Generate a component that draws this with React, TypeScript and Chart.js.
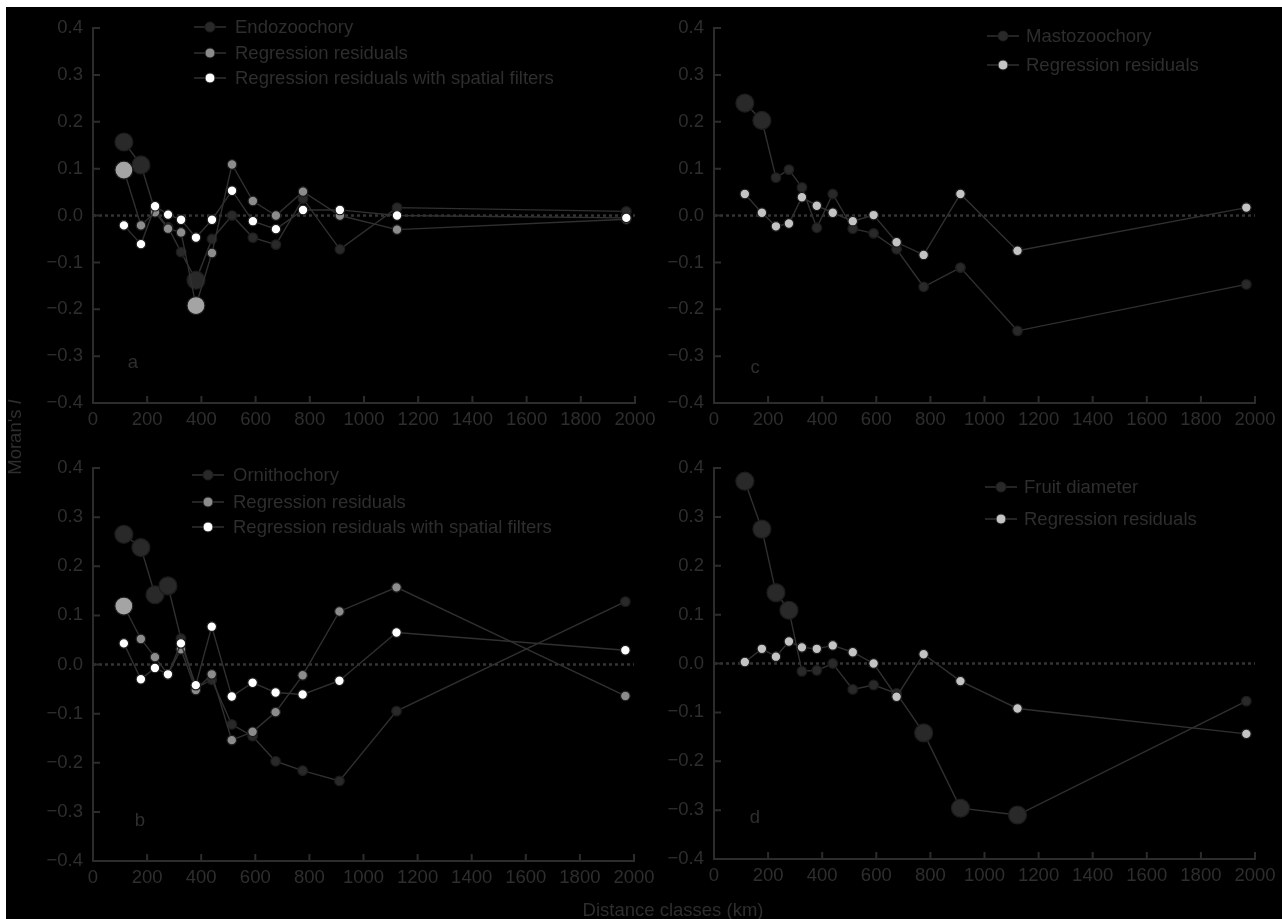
import React, { useEffect, useRef } from "react";
import { Chart, registerables } from "chart.js";

Chart.register(...registerables);

// ---------------- DATA ----------------
const distanceClasses = [114, 177, 229, 277, 325, 380, 439, 513, 590, 675, 775, 911, 1122, 1968];
const xTickValues = [0, 200, 400, 600, 800, 1000, 1200, 1400, 1600, 1800, 2000];
const yTickValues = [-0.4, -0.3, -0.2, -0.1, 0, 0.1, 0.2, 0.3, 0.4];

// Panel a – Endozoochory
const endozoochory = [0.157, 0.108, 0.01, -0.025, -0.078, -0.138, -0.05, 0.0, -0.047, -0.062, 0.036, -0.072, 0.017, 0.009];
const endozoochorySig = [1, 1, 0, 0, 0, 1, 0, 0, 0, 0, 0, 0, 0, 0];
const endoResiduals = [0.097, -0.021, 0.007, -0.028, -0.036, -0.192, -0.08, 0.109, 0.031, 0.0, 0.051, 0.0, -0.03, -0.008];
const endoResidualsSig = [1, 0, 0, 0, 0, 1, 0, 0, 0, 0, 0, 0, 0, 0];
const endoFiltered = [-0.021, -0.061, 0.02, 0.002, -0.009, -0.047, -0.009, 0.053, -0.012, -0.029, 0.012, 0.012, 0.0, -0.005];
const endoFilteredSig = [0, 0, 0, 0, 0, 0, 0, 0, 0, 0, 0, 0, 0, 0];

// Panel b – Ornithochory
const ornithochory = [0.265, 0.238, 0.142, 0.16, 0.053, -0.048, -0.031, -0.122, -0.146, -0.197, -0.216, -0.237, -0.095, 0.128];
const ornithochorySig = [1, 1, 1, 1, 0, 0, 0, 0, 0, 0, 0, 0, 0, 0];
const ornithoResiduals = [0.119, 0.052, 0.015, -0.02, 0.031, -0.052, -0.02, -0.154, -0.137, -0.097, -0.022, 0.108, 0.157, -0.064];
const ornithoResidualsSig = [1, 0, 0, 0, 0, 0, 0, 0, 0, 0, 0, 0, 0, 0];
const ornithoFiltered = [0.043, -0.03, -0.007, -0.02, 0.043, -0.042, 0.077, -0.065, -0.037, -0.057, -0.061, -0.033, 0.065, 0.029];
const ornithoFilteredSig = [0, 0, 0, 0, 0, 0, 0, 0, 0, 0, 0, 0, 0, 0];

// Panel c – Mastozoochory
const mastozoochory = [0.24, 0.203, 0.081, 0.098, 0.06, -0.026, 0.046, -0.028, -0.038, -0.072, -0.152, -0.111, -0.246, -0.147];
const mastozoochorySig = [1, 1, 0, 0, 0, 0, 0, 0, 0, 0, 0, 0, 0, 0];
const mastoResiduals = [0.046, 0.006, -0.023, -0.017, 0.039, 0.021, 0.006, -0.012, 0.001, -0.057, -0.084, 0.046, -0.075, 0.017];
const mastoResidualsSig = [0, 0, 0, 0, 0, 0, 0, 0, 0, 0, 0, 0, 0, 0];

// Panel d – Fruit diameter
const fruitDiameter = [0.373, 0.275, 0.145, 0.109, -0.016, -0.014, 0.0, -0.053, -0.044, -0.061, -0.142, -0.296, -0.31, -0.077];
const fruitDiameterSig = [1, 1, 1, 1, 0, 0, 0, 0, 0, 0, 1, 1, 1, 0];
const fruitResiduals = [0.003, 0.03, 0.014, 0.045, 0.033, 0.03, 0.037, 0.023, 0.0, -0.068, 0.019, -0.036, -0.092, -0.144];
const fruitResidualsSig = [0, 0, 0, 0, 0, 0, 0, 0, 0, 0, 0, 0, 0, 0];

// ---------------- STYLE ----------------
const FONT = '"Liberation Sans", Arial, Helvetica, sans-serif';
const FONT_SIZE = 18.5;
const TEXT = "#2e2e2e";
const AXIS = "#2c2c2c";
const LINE = "#303030";
const DARK = "#292929";
const GRAY = "#8c8c8c";
const GRAY_BIG = "#a4a4a4";
const LIGHT = "#c4c4c4";
const WHITE = "#ffffff";
const W = 1276;
const H = 912;

type Series = { label: string; values: number[]; sig: number[]; color: string; bigColor?: string; order: number };
type Panel = {
  area: { l: number; t: number; r: number; b: number };
  series: Series[];
  legend: { mx: number; tx: number; rows: number[] };
  letter: { text: string; x: number; y: number };
};

const panels: Panel[] = [
  {
    area: { l: 87, t: 8, r: 629, b: 396 },
    series: [
      { label: "Endozoochory", values: endozoochory, sig: endozoochorySig, color: DARK, order: 3 },
      { label: "Regression residuals", values: endoResiduals, sig: endoResidualsSig, color: GRAY, bigColor: GRAY_BIG, order: 2 },
      { label: "Regression residuals with spatial filters", values: endoFiltered, sig: endoFilteredSig, color: WHITE, order: 1 },
    ],
    legend: { mx: 204, tx: 229, rows: [20, 46, 71] },
    letter: { text: "a", x: 127, y: 356 },
  },
  {
    area: { l: 708, t: 12, r: 1249, b: 396 },
    series: [
      { label: "Mastozoochory", values: mastozoochory, sig: mastozoochorySig, color: DARK, order: 2 },
      { label: "Regression residuals", values: mastoResiduals, sig: mastoResidualsSig, color: LIGHT, order: 1 },
    ],
    legend: { mx: 997, tx: 1020, rows: [29, 58] },
    letter: { text: "c", x: 749, y: 361 },
  },
  {
    area: { l: 87, t: 461, r: 628, b: 854 },
    series: [
      { label: "Ornithochory", values: ornithochory, sig: ornithochorySig, color: DARK, order: 3 },
      { label: "Regression residuals", values: ornithoResiduals, sig: ornithoResidualsSig, color: GRAY, bigColor: GRAY_BIG, order: 2 },
      { label: "Regression residuals with spatial filters", values: ornithoFiltered, sig: ornithoFilteredSig, color: WHITE, order: 1 },
    ],
    legend: { mx: 202, tx: 227, rows: [468, 495, 520] },
    letter: { text: "b", x: 134, y: 814 },
  },
  {
    area: { l: 708, t: 461, r: 1249, b: 852 },
    series: [
      { label: "Fruit diameter", values: fruitDiameter, sig: fruitDiameterSig, color: DARK, order: 2 },
      { label: "Regression residuals", values: fruitResiduals, sig: fruitResidualsSig, color: LIGHT, order: 1 },
    ],
    legend: { mx: 995, tx: 1018, rows: [480, 512] },
    letter: { text: "d", x: 749, y: 811 },
  },
];

const Y_AXIS_W = 70;
const X_AXIS_H = 40;

function fmtY(v: number) {
  if (Math.abs(v) < 1e-9) return "0.0";
  return (v < 0 ? "\u2212" : "") + Math.abs(v).toFixed(1);
}

const decorPlugin = {
  id: "panelDecor",
  beforeDatasetsDraw(chart: any) {
    const { ctx, chartArea } = chart;
    const y0 = chart.scales.y.getPixelForValue(0);
    ctx.save();
    ctx.strokeStyle = "#343434";
    ctx.lineWidth = 2.5;
    ctx.setLineDash([3, 3]);
    ctx.beginPath();
    ctx.moveTo(chartArea.left, y0);
    ctx.lineTo(chartArea.right, y0);
    ctx.stroke();
    ctx.restore();
  },
  afterDraw(chart: any, _args: any, opts: any) {
    const { ctx, chartArea } = chart;
    const xs = chart.scales.x;
    const ys = chart.scales.y;
    ctx.save();
    // inward tick marks
    ctx.strokeStyle = AXIS;
    ctx.lineWidth = 2;
    ctx.beginPath();
    xTickValues.forEach((v) => {
      const x = xs.getPixelForValue(v);
      ctx.moveTo(x, chartArea.bottom);
      ctx.lineTo(x, chartArea.bottom - 7);
    });
    yTickValues.forEach((v) => {
      const y = ys.getPixelForValue(v);
      ctx.moveTo(chartArea.left, y);
      ctx.lineTo(chartArea.left + 7, y);
    });
    ctx.stroke();

    // legend
    const p: Panel = opts.panel;
    ctx.font = `${FONT_SIZE}px ${FONT}`;
    ctx.textBaseline = "middle";
    ctx.textAlign = "left";
    p.series.forEach((s, i) => {
      const y = p.legend.rows[i];
      ctx.strokeStyle = LINE;
      ctx.lineWidth = 1.5;
      ctx.beginPath();
      ctx.moveTo(p.legend.mx - 16, y);
      ctx.lineTo(p.legend.mx + 16, y);
      ctx.stroke();
      ctx.beginPath();
      ctx.arc(p.legend.mx, y, 5, 0, Math.PI * 2);
      ctx.fillStyle = s.color;
      ctx.fill();
      ctx.strokeStyle = "#1e1e1e";
      ctx.lineWidth = 1;
      ctx.stroke();
      ctx.fillStyle = TEXT;
      ctx.fillText(s.label, p.legend.tx, y + 1);
    });

    // panel letter
    ctx.textAlign = "center";
    ctx.fillText(p.letter.text, p.letter.x, p.letter.y);
    ctx.restore();
  },
};

function buildConfig(p: Panel): any {
  const datasets = p.series.map((s) => ({
    label: s.label,
    data: distanceClasses.map((x, i) => ({ x, y: s.values[i] })),
    order: s.order,
    showLine: true,
    borderColor: LINE,
    borderWidth: 1.4,
    pointRadius: s.sig.map((g) => (g ? 9 : 4.8)),
    pointBackgroundColor: s.sig.map((g) => (g && s.bigColor ? s.bigColor : s.color)),
    pointBorderColor: "#1c1c1c",
    pointBorderWidth: 1.2,
    tension: 0,
  }));
  const font = { family: FONT, size: FONT_SIZE };
  return {
    type: "scatter",
    data: { datasets },
    plugins: [decorPlugin],
    options: {
      animation: false,
      responsive: false,
      maintainAspectRatio: false,
      devicePixelRatio: 1,
      events: [],
      layout: {
        padding: {
          left: p.area.l - Y_AXIS_W,
          top: p.area.t,
          right: W - p.area.r,
          bottom: H - p.area.b - X_AXIS_H,
        },
      },
      plugins: {
        legend: { display: false },
        tooltip: { enabled: false },
        panelDecor: { panel: p },
      },
      scales: {
        x: {
          type: "linear",
          min: 0,
          max: 2000,
          afterBuildTicks: (s: any) => {
            s.ticks = xTickValues.map((v) => ({ value: v }));
          },
          afterFit: (s: any) => {
            s.height = X_AXIS_H;
          },
          grid: { display: false, drawTicks: false },
          border: { display: true, color: AXIS, width: 2 },
          ticks: { color: TEXT, font, padding: 6, maxRotation: 0, autoSkip: false, callback: (v: any) => String(v) },
        },
        y: {
          type: "linear",
          min: -0.4,
          max: 0.4,
          afterBuildTicks: (s: any) => {
            s.ticks = yTickValues.map((v) => ({ value: v }));
          },
          afterFit: (s: any) => {
            s.width = Y_AXIS_W;
          },
          grid: { display: false, drawTicks: false },
          border: { display: true, color: AXIS, width: 2 },
          ticks: { color: TEXT, font, padding: 10, autoSkip: false, callback: (v: any) => fmtY(Number(v)) },
        },
      },
    },
  };
}

function PanelChart({ panel }: { panel: Panel }) {
  const ref = useRef<HTMLCanvasElement | null>(null);
  useEffect(() => {
    if (!ref.current) return;
    const chart = new Chart(ref.current, buildConfig(panel));
    return () => chart.destroy();
  }, [panel]);
  return (
    <canvas
      ref={ref}
      width={W}
      height={H}
      style={{ position: "absolute", left: 0, top: 0, width: W, height: H }}
    />
  );
}

export default function App() {
  return (
    <div style={{ position: "fixed", left: 0, top: 0, width: 1282, height: 919, background: "#ffffff", overflow: "hidden" }}>
      <div style={{ position: "absolute", left: 6, top: 7, width: W, height: H, background: "#000000", overflow: "hidden" }}>
        {panels.map((p, i) => (
          <PanelChart key={i} panel={p} />
        ))}
        <div
          style={{
            position: "absolute",
            left: 9 - 100,
            top: 430 - 11,
            width: 200,
            height: 22,
            lineHeight: "22px",
            textAlign: "center",
            transform: "rotate(-90deg)",
            color: TEXT,
            fontFamily: FONT,
            fontSize: FONT_SIZE,
            whiteSpace: "nowrap",
          }}
        >
          Moran's <i>I</i>
        </div>
        <div
          style={{
            position: "absolute",
            left: 667 - 150,
            top: 903 - 11,
            width: 300,
            height: 22,
            lineHeight: "22px",
            textAlign: "center",
            color: TEXT,
            fontFamily: FONT,
            fontSize: FONT_SIZE,
            whiteSpace: "nowrap",
          }}
        >
          Distance classes (km)
        </div>
      </div>
    </div>
  );
}
